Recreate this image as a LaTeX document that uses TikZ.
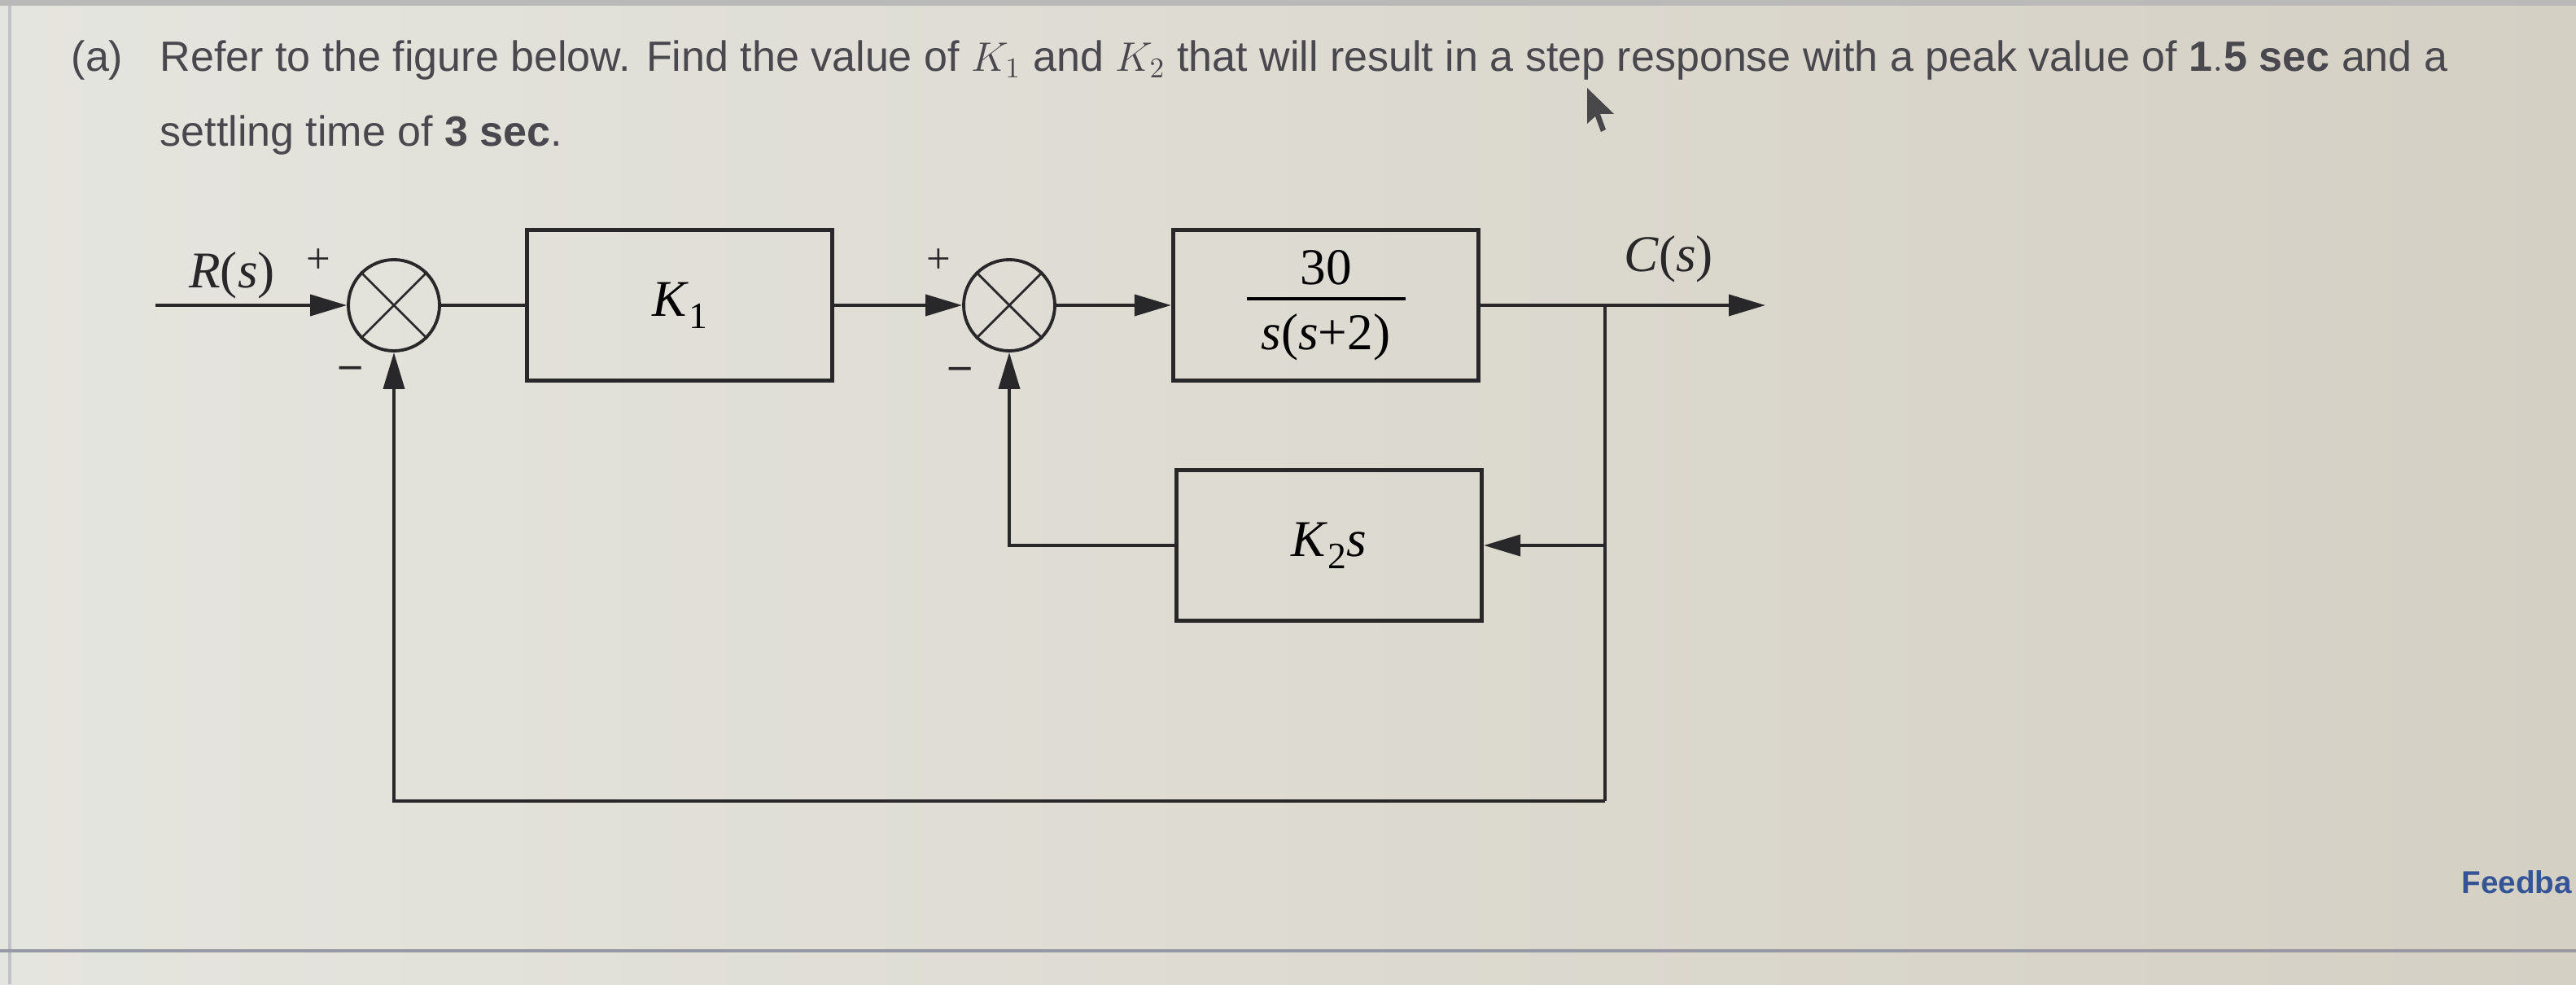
\documentclass[tikz,border=0pt]{standalone}
\usepackage{fontspec}
\setmainfont{Liberation Sans}
\newfontfamily\diagfont{Liberation Serif}
\usetikzlibrary{arrows.meta,positioning}
\definecolor{paperL}{RGB}{229,229,223}
\definecolor{paperR}{RGB}{213,208,196}
\definecolor{ink}{RGB}{40,40,42}
\definecolor{txt}{RGB}{72,72,78}
\definecolor{rulec}{RGB}{150,152,166}
\definecolor{linkc}{RGB}{52,84,150}
\newcommand{\lowsub}[1]{\raisebox{-4.2pt}{\fontsize{13}{13}\selectfont#1}}
\tikzset{
  dline/.style={ink,line width=1.1pt},
  darrow/.style={dline,-{Triangle[length=4.5mm,width=2.6mm]}},
  dblock/.style={draw=ink,line width=1.5pt,minimum width=3.75cm,minimum height=1.85cm,
    inner sep=0pt,align=center,font=\diagfont\fontsize{18}{20}\selectfont},
  dsum/.style={draw=ink,line width=1.1pt,circle,minimum size=1.12cm,inner sep=0pt},
  dlabel/.style={ink,font=\diagfont\fontsize{18}{20}\selectfont},
  dsign/.style={ink,font=\diagfont\fontsize{15}{16}\selectfont},
  qtext/.style={txt,font=\fontsize{14.8}{18}\selectfont,anchor=base west,inner sep=0pt},
}

\begin{document}
\begin{tikzpicture}
  % ---- page ----
  \shade[left color=paperL,right color=paperR] (0,0) rectangle (31.65,12.09);
  \useasboundingbox (0,0) rectangle (31.65,12.09);
  \clip (0,0) rectangle (31.65,12.09);
  \fill[gray!55] (0,12.02) rectangle (31.65,12.09);
  \draw[rulec!60,line width=1pt] (0.12,0) -- (0.12,12.02);
  \draw[rulec,line width=1.3pt] (0,0.41) -- (31.65,0.41);
  \node[font=\bfseries\fontsize{11}{13}\selectfont,linkc,anchor=base west,inner sep=0pt]
     (fb) at (30.24,1.12) {Feedba};
  % ---- question ----
  \node[qtext] (qa) at (0.87,11.21) {(a)};
  \node[qtext] (q1) at (1.96,11.21) {Refer to the figure below. Find the value of $K_1$ and
     $K_2$ that will result in a step response with a peak value of $\mathbf{1.5}$ \textbf{sec} and a};
  \node[qtext] (q2) at (1.96,10.29) {settling time of $\mathbf{3}$ \textbf{sec}.};
  \fill[ink!85] (19.50,11.01) -- (19.50,10.57) -- (19.60,10.66) -- (19.67,10.47)
     -- (19.73,10.50) -- (19.66,10.69) -- (19.83,10.69) -- cycle;
  % ---- forward path ----
  \node[dsum] (s1) at (4.84,8.34) {};
  \node[dblock] (k1) at (8.35,8.34) {\textit{K}\lowsub{1}};
  \node[dsum] (s2) at (12.40,8.34) {};
  \node[dblock] (g) at (16.29,8.34) {30\\[-15.7pt]\rule[-1.3pt]{1.95cm}{1.1pt}\\[-1.6pt]\textit{s}(\textit{s}+2)};
  \node[dblock] (h) at (16.33,5.39) {\textit{K}\lowsub{2}\textit{s}};
  \foreach \s in {s1,s2} {
    \draw[ink,line width=0.8pt] (\s.north west) -- (\s.south east) (\s.north east) -- (\s.south west);}
  \coordinate (rin) at (1.91,8.34);
  \coordinate (cout) at (21.69,8.34);
  \coordinate (tap) at (19.72,8.34);
  \coordinate (fbot) at (19.72,2.25);
  \draw[darrow] (rin) -- (s1);
  \draw[dline] (s1) -- (k1);
  \draw[darrow] (k1) -- (s2);
  \draw[darrow] (s2) -- (g);
  \draw[darrow] (g) -- (cout);
  % ---- feedback paths ----
  \draw[darrow] (tap |- h) -- (h);
  \draw[darrow] (h) -| (s2);
  \draw[dline] (tap) -- (fbot);
  \draw[darrow] (fbot) -| (s1);
  % ---- labels ----
  \node[dlabel] (rl) at (2.85,8.71) {\textit{R}(\textit{s})};
  \node[dlabel] (cl) at (20.50,8.91) {\textit{C}(\textit{s})};
  \node[dsign] (p1) at (3.91,8.88) {+};
  \node[dsign,font=\diagfont\bfseries\fontsize{15}{16}\selectfont] (m1) at (4.31,7.52) {–};
  \node[dsign] (p2) at (11.53,8.88) {+};
  \node[dsign,font=\diagfont\bfseries\fontsize{15}{16}\selectfont] (m2) at (11.80,7.51) {–};
\end{tikzpicture}
\end{document}
